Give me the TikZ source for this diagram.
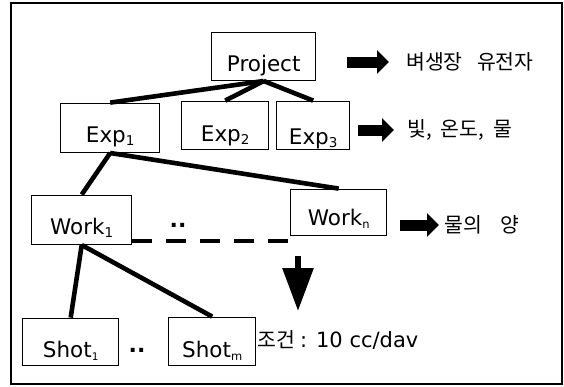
\documentclass[tikz,border=0pt]{standalone}
\usepackage{fontspec}
\setmainfont{DejaVu Sans}
\newfontfamily\kr{Noto Sans CJK KR}
\usetikzlibrary{arrows.meta}
% lowered index after a box name
\newcommand\lowidx[2][13.5]{\raisebox{-3.5pt}{\fontsize{#1}{#1}\selectfont #2}}

\begin{document}
\begin{tikzpicture}[x=1pt,y=-1pt,
  box/.style={draw, line width=1.4pt, inner sep=0pt, anchor=south west,
              font=\fontsize{21.5}{21.5}\selectfont},
  link/.style={line width=4.6pt},
  blockarrow/.style={line width=11pt, -{Triangle[length=12pt,width=23pt]}},
  note/.style={anchor=west, inner sep=0pt, font=\kr\fontsize{20.5}{20.5}\selectfont},
  dotpair/.style={inner sep=0pt, font=\bfseries\fontsize{22}{22}\selectfont},
]
\useasboundingbox (0,0) rectangle (564,386);

% outer frame
\draw[line width=1.5pt] (11,3) rectangle (562,384);

% hierarchy boxes
\node[box, minimum width=104pt, text height=39pt, text depth=9pt]  (proj)  at (211,81)  {Project};
\node[box, minimum width=99pt,  text height=39pt, text depth=10pt] (exp1)  at (60,153)  {Exp\lowidx{1}};
\node[box, minimum width=87pt,  text height=40pt, text depth=8pt]  (exp2)  at (181,150) {Exp\lowidx{2}};
\node[box, minimum width=73pt,  text height=43pt, text depth=5pt]  (exp3)  at (276,150) {Exp\lowidx{3}};
\node[box, minimum width=100pt, text height=39pt, text depth=10pt] (work1) at (31,245)  {Work\lowidx{1}};
\node[box, minimum width=96pt,  text height=36pt, text depth=10pt] (workn) at (290,236) {Work\lowidx[11.5]{n}};
\node[box, minimum width=96pt,  text height=39pt, text depth=8pt]  (shot1) at (22,366)  {Shot\lowidx[10.5]{1}};
\node[box, minimum width=87pt,  text height=40pt, text depth=8pt]  (shotm) at (168,366) {Shot\lowidx[11.5]{m}};

% tree links
\draw[link] (proj.south) -- (exp1.north);
\draw[link] (proj.south) -- (exp2.north);
\draw[link] (proj.south) -- (exp3.north);
\draw[link] (exp1.south) -- (work1.north);
\draw[link] (exp1.south) -- (workn.north);
\draw[link] (work1.south) -- (shot1.north);
\draw[link] (work1.south) -- (shotm.north);

% elided siblings
\node[dotpair] (wdots) at (178,225) {..};
\node[dotpair] (sdots) at (137,350) {..};

% dashed run towards the condition arrow
\coordinate (dashend) at (297,241);
\draw[line width=4.5pt, dash pattern=on 20pt off 14pt] (work1.east |- dashend) -- (dashend);

% downward arrow to the condition
\coordinate (dnstart) at (298,256);
\coordinate (dntip) at (298,311);
\draw[line width=6pt, -{Triangle[length=43pt,width=30pt]}] (dnstart) -- (dntip);

% side arrows and their notes
\coordinate (a1s) at (347,62);  \coordinate (a1e) at (389,62);
\coordinate (a2s) at (358,130); \coordinate (a2e) at (394,130);
\coordinate (a3s) at (400,225); \coordinate (a3e) at (439,225);
\draw[blockarrow] (a1s) -- (a1e);
\draw[blockarrow] (a2s) -- (a2e);
\draw[blockarrow] (a3s) -- (a3e);

\node[note] (n1) at (406,62)  {벼생장\hspace{0.7em}유전자};
\node[note] (n2) at (407,130) {빛,\hspace{0.45em}온도,\hspace{0.45em}물};
\node[note] (n3) at (444,225) {물의\hspace{0.9em}양};
\node[note, font=\fontsize{21}{21}\selectfont] (n4) at (257,340)
  {{\kr\fontsize{20.5}{20.5}\selectfont 조건}\hspace{0.25em}: 10 cc/dav};
\end{tikzpicture}
\end{document}
